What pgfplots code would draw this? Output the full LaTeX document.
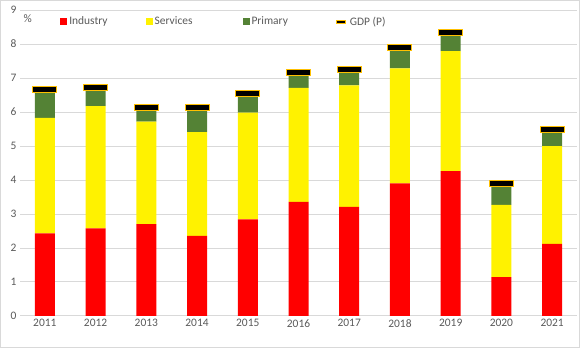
\documentclass[border=0pt]{standalone}
\usepackage{pgfplots}
\pgfplotsset{compat=1.18}
\usepackage{fontspec}
\setmainfont{Carlito}
\definecolor{tickgray}{HTML}{595959}
\definecolor{gridgray}{HTML}{D9D9D9}
\definecolor{primgreen}{HTML}{548235}
\definecolor{gdpgold}{HTML}{FFC000}
\pgfdeclareplotmark{gdpbar}{\pgfpathrectangle{\pgfpoint{-12bp}{-3bp}}{\pgfpoint{24bp}{6bp}}\pgfusepathqfillstroke}
\begin{document}
\begin{tikzpicture}
\draw[gridgray, line width=0.8bp] (0.4bp,0.4bp) rectangle (579.6bp,347.6bp);
\begin{axis}[at={(20bp,32bp)}, anchor=south west, scale only axis,
  width=557bp, height=306bp,
  xmin=-0.49, xmax=10.49, ymin=0, ymax=9,
  ybar stacked, bar width=20bp,
  xtick={0,1,2,3,4,5,6,7,8,9,10},
  xticklabels={2011,2012,2013,2014,2015,2016,2017,2018,2019,2020,2021},
  ytick={0,1,2,3,4,5,6,7,8,9},
  ymajorgrids, grid style={gridgray, line width=1bp},
  axis line style={draw=none}, major tick length=0pt,
  tick label style={font=\fontsize{11.5}{13}\selectfont, text=tickgray},
  /pgf/number format/assume math mode=true,
  legend columns=4, legend cell align=left,
  legend style={draw=none, fill=none, at={(rel axis cs:0.072,0.985)}, anchor=north west,
    font=\fontsize{11.5}{13}\selectfont, text=tickgray, inner sep=0pt,
    /tikz/every even column/.append style={column sep=36bp}},
]
\addplot[fill=red, draw=none, legend image code/.code={\fill[red] (0bp,-3.5bp) rectangle (7bp,3.5bp);}]
  coordinates {(0,2.43) (1,2.58) (2,2.70) (3,2.36) (4,2.84) (5,3.36) (6,3.21) (7,3.90) (8,4.26) (9,1.14) (10,2.12)};
\addlegendentry{Industry}
\addplot[fill=yellow, draw=none, legend image code/.code={\fill[yellow] (0bp,-3.5bp) rectangle (7bp,3.5bp);}]
  coordinates {(0,3.40) (1,3.59) (2,3.02) (3,3.05) (4,3.14) (5,3.35) (6,3.57) (7,3.38) (8,3.53) (9,2.13) (10,2.88)};
\addlegendentry{Services\hspace*{12bp}}
\addplot[fill=primgreen, draw=none, legend image code/.code={\fill[primgreen] (0bp,-3.5bp) rectangle (7bp,3.5bp);}]
  coordinates {(0,0.82) (1,0.55) (2,0.42) (3,0.73) (4,0.55) (5,0.45) (6,0.46) (7,0.62) (8,0.56) (9,0.63) (10,0.48)};
\addlegendentry{Primary\hspace*{8bp}}
\addlegendimage{legend image code/.code={\draw[gdpgold, line width=4bp] (0bp,0bp)--(10bp,0bp); \draw[black, line width=1.6bp] (1bp,0bp)--(9bp,0bp);}}
\addlegendentry{GDP (P)}
\node[anchor=north west, font=\fontsize{11.5}{13}\selectfont, text=tickgray, inner sep=0pt] at (rel axis cs:0.006,0.985) {\%};
\end{axis}
\begin{axis}[at={(20bp,32bp)}, anchor=south west, scale only axis,
  width=557bp, height=306bp,
  xmin=-0.49, xmax=10.49, ymin=0, ymax=9, hide axis]
\addplot[only marks, mark=gdpbar, mark options={fill=black, draw=gdpgold, line width=1bp}]
  coordinates {(0,6.65) (1,6.72) (2,6.14) (3,6.14) (4,6.53) (5,7.16) (6,7.24) (7,7.90) (8,8.35) (9,3.90) (10,5.48)};
\end{axis}
\end{tikzpicture}
\end{document}
